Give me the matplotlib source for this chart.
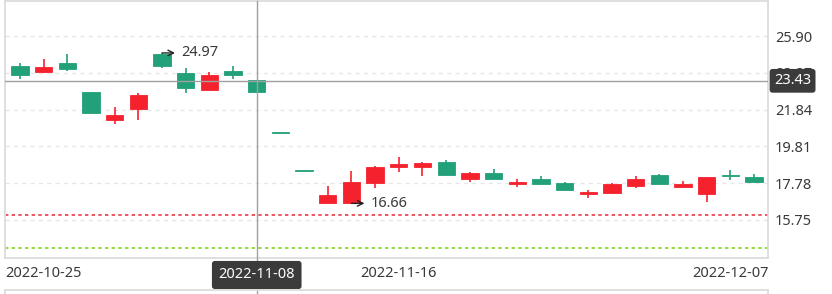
import matplotlib
matplotlib.use("Agg")
import matplotlib.pyplot as plt
import matplotlib.transforms as mtransforms
import numpy as np

dates = ['2022-10-25','2022-10-26','2022-10-27','2022-10-28','2022-10-31','2022-11-01','2022-11-02',
         '2022-11-03','2022-11-04','2022-11-07','2022-11-08','2022-11-09','2022-11-10','2022-11-11',
         '2022-11-14','2022-11-15','2022-11-16','2022-11-17','2022-11-18','2022-11-21','2022-11-22',
         '2022-11-23','2022-11-25','2022-11-28','2022-11-29','2022-11-30','2022-12-01','2022-12-02',
         '2022-12-05','2022-12-06','2022-12-07','2022-12-08']
opens  = [23.75,24.19,24.09,21.63,21.52,22.62,24.26,23.05,23.75,23.75,22.82,20.52,18.46,17.12,17.82,18.68,
          18.83,18.90,18.22,18.32,17.98,17.85,17.71,17.39,17.28,17.72,17.98,17.72,17.72,18.09,18.15,17.82]
closes = [24.26,23.90,24.39,22.82,21.24,21.85,24.90,23.87,22.92,23.97,23.47,20.52,18.46,16.68,16.70,17.76,
          18.65,18.65,18.96,18.00,18.32,17.74,17.98,17.80,17.19,17.24,17.61,18.21,17.58,17.16,18.21,18.09]
highs  = [24.43,24.61,24.89,22.82,21.99,22.74,24.97,24.12,23.90,24.26,23.47,20.52,18.46,17.61,18.46,18.70,
          19.20,18.92,19.05,18.40,18.54,17.98,18.17,17.82,17.39,17.80,18.17,18.28,17.91,18.12,18.50,18.26]
lows   = [23.51,23.84,23.97,21.63,21.04,21.26,24.15,22.74,22.92,23.52,22.82,20.52,18.46,16.68,16.66,17.49,
          18.40,18.17,18.22,17.85,17.98,17.58,17.71,17.39,16.97,17.24,17.52,17.72,17.54,16.72,17.95,17.82]
price_ticks = [15.75, 17.78, 19.81, 21.84, 23.87, 25.90]
date_tick_idx = [0, 16, 30]
level_red = 16.0
level_green = 14.19
cross_idx = 10
cross_price = 23.43

GREEN = '#22a079'
RED = '#f5222d'
TXT = '#3a3a3a'
FS = 10.5
plt.rcParams['font.family'] = ['Noto Sans', 'DejaVu Sans']

fig = plt.figure(figsize=(8.32, 2.94), dpi=100)
W, H = 832, 294
ax = fig.add_axes([5 / W, 1 - 258 / H, (768 - 5) / W, (258 - 1) / H])

x = np.arange(len(dates))
o = np.array(opens); c = np.array(closes); h = np.array(highs); l = np.array(lows)
up = c >= o
cols = [GREEN if u else RED for u in up]

ax.vlines(x, l, h, colors=cols, linewidth=1.2, zorder=3)
ax.bar(x, np.maximum(np.abs(c - o), 0.06), bottom=np.minimum(o, c), width=0.73, color=cols,
       edgecolor=cols, linewidth=0.6, zorder=4)

ax.set_xlim(-0.63, 31.59)
ax.set_ylim(13.64, 27.84)

# grid
for t in price_ticks:
    ax.axhline(t, color='#e6e6e6', linewidth=1, linestyle=(0, (3, 3)), zorder=1)

# price levels
ax.axhline(level_red, color='#f23645', linewidth=1.2, linestyle=(0, (2, 2)), zorder=2)
ax.axhline(level_green, color='#7ed321', linewidth=1.2, linestyle=(0, (2, 2)), zorder=2)

# spines
for s in ax.spines.values():
    s.set_color('#dcdcdc')
    s.set_linewidth(1.3)

ax.yaxis.tick_right()
ax.set_yticks(price_ticks)
ax.set_yticklabels([f'{t:.2f}' for t in price_ticks])
ax.tick_params(axis='y', length=0, pad=5, labelsize=FS, labelcolor=TXT)
ax.set_xticks(date_tick_idx)
ax.set_xticklabels([dates[i] for i in date_tick_idx])
ax.tick_params(axis='x', length=0, pad=6, labelsize=FS, labelcolor=TXT)
first = ax.get_xticklabels()[0]
first.set_ha('left')
first.set_transform(first.get_transform() + mtransforms.ScaledTranslation(-15 / 100, 0, fig.dpi_scale_trans))

# max/min annotations
imax = int(np.argmax(h)); imin = int(np.argmin(l))
for idx, val in [(imax, h[imax]), (imin, l[imin])]:
    ax.annotate('', xy=(idx + 0.55, val), xytext=(idx, val),
                arrowprops=dict(arrowstyle='->', color='#222222', lw=1.0, shrinkA=0, shrinkB=0), zorder=6)
    ax.text(idx + 0.8, val, f'{val:.2f}', va='center', ha='left', fontsize=FS, color=TXT, zorder=6)

# crosshair
ax.axvline(cross_idx, ymin=-0.14, ymax=1, color='#a0a0a0', linewidth=1, clip_on=False, zorder=5)
ax.axhline(cross_price, color='#a0a0a0', linewidth=1, zorder=5)
ax.text(1.0 + 6 / 763, cross_price, f'{cross_price:.2f}', transform=ax.get_yaxis_transform(),
        ha='left', va='center', fontsize=FS, color='white', zorder=10, clip_on=False,
        bbox=dict(boxstyle='round,pad=0.3,rounding_size=0.2', facecolor='#3b3b3b', edgecolor='none'))
ax.text(cross_idx, -17 / 257, dates[cross_idx], transform=ax.get_xaxis_transform(),
        ha='center', va='center', fontsize=FS, color='white', zorder=10, clip_on=False,
        bbox=dict(boxstyle='round,pad=0.45,rounding_size=0.2', facecolor='#3b3b3b', edgecolor='none'))

# lower panel border
fig.add_artist(plt.Line2D([5 / W, 768 / W], [1 - 290 / H, 1 - 290 / H], color='#dcdcdc', linewidth=1.3))
fig.add_artist(plt.Line2D([5 / W, 5 / W], [0, 1 - 290 / H], color='#dcdcdc', linewidth=1.3))
fig.add_artist(plt.Line2D([768 / W, 768 / W], [0, 1 - 290 / H], color='#dcdcdc', linewidth=1.3))

fig.savefig('out.png', dpi=100)
